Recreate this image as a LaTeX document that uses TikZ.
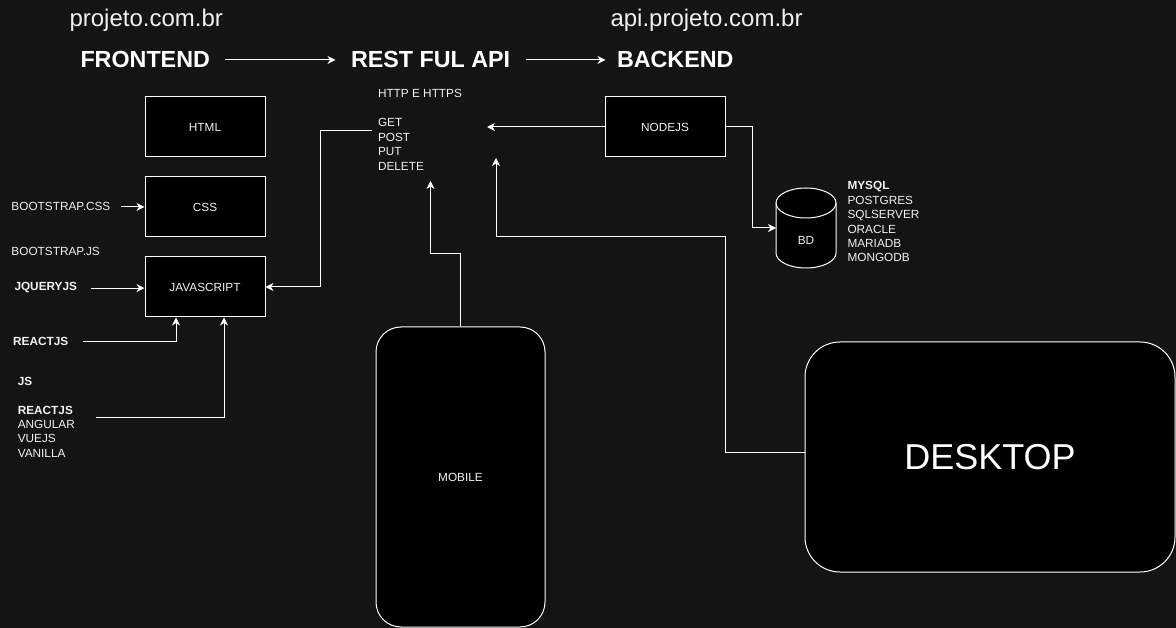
\documentclass[tikz,border=0pt]{standalone}
\usepackage{fontspec}
\setmainfont{Liberation Sans}
\usetikzlibrary{arrows.meta}
\definecolor{bg}{HTML}{141414}
\definecolor{txt}{HTML}{F0F0F0}
\newcommand{\smallf}{\fontsize{11.8}{14.4}\selectfont}
\begin{document}
\begin{tikzpicture}[x=1pt,y=-1pt, line width=1pt,
  box/.style={draw=white, fill=black, minimum width=120pt, minimum height=60pt, inner sep=0pt, text=txt, font=\smallf},
  lbl/.style={inner sep=0pt, anchor=base west, text=txt, font=\smallf},
  blbl/.style={lbl, font=\smallf\bfseries},
  head/.style={inner sep=0pt, anchor=base west, text=white, font=\fontsize{23.3}{28}\selectfont\bfseries},
  url/.style={inner sep=0pt, anchor=base west, text=txt, font=\fontsize{24}{28}\selectfont},
  conn/.style={draw=white, line width=1pt, -{Stealth[length=8pt,width=8pt,inset=2.5pt]}},
  rbox/.style={draw=white, fill=black, inner sep=0pt, text=txt}]
\fill[bg] (0,0) rectangle (1176,628);
\useasboundingbox (0,0) rectangle (1176,628);

% headings
\node[url] (u1) at (69,27) {projeto.com.br};
\node[url] (u2) at (610,27) {api.projeto.com.br};
\node[head] (front) at (80,68) {FRONTEND};
\node[head] (rest) at (350.5,68) {REST FUL API};
\node[head] (back) at (616.5,68) {BACKEND};
\draw[conn] ([xshift=15pt]front.east) -- ([xshift=-15pt]rest.west);
\draw[conn] ([xshift=15pt]rest.east) -- ([xshift=-11pt]back.west);

% frontend boxes
\node[box] (html) at (205,127) {HTML};
\node[box] (css) at (205,207) {CSS};
\node[box] (js) at (205,287) {JAVASCRIPT};
\node[box] (nodejs) at (665,127) {NODEJS};

% api text
\node[lbl] (http) at (377.5,98) {HTTP E HTTPS};
\node[lbl] (get) at (377.5,127) {GET};
\node[lbl] (post) at (377.5,141.4) {POST};
\node[lbl] (put) at (377.5,155.8) {PUT};
\node[lbl] (del) at (377.5,170.2) {DELETE};

% left labels
\node[lbl] (bcss) at (11,211) {BOOTSTRAP.CSS};
\node[lbl] (bjs) at (11,256) {BOOTSTRAP.JS};
\node[blbl] (jq) at (14,291) {JQUERYJS};
\node[blbl] (react) at (12.7,346) {REACTJS};
\node[blbl] (jsl) at (17.3,385) {JS};
\node[blbl] (fw1) at (17.3,414) {REACTJS};
\node[lbl] (fw2) at (17.3,428.4) {ANGULAR};
\node[lbl] (fw3) at (17.3,442.8) {VUEJS};
\node[lbl] (fw4) at (17.3,457.2) {VANILLA};

% database
\draw[draw=white, fill=black] (776,203) -- (776,253) arc[start angle=180, end angle=360, x radius=30pt, y radius=15pt]
  -- (836,203) arc[start angle=0, end angle=180, x radius=30pt, y radius=15pt] -- cycle;
\draw[white] (776,203) arc[start angle=180, end angle=360, x radius=30pt, y radius=15pt];
\node[lbl, anchor=center] (bd) at (806,240) {BD};
\coordinate (bdin) at (776,228);
\node[blbl] (db1) at (847,190) {MYSQL};
\node[lbl] (db2) at (847,204.4) {POSTGRES};
\node[lbl] (db3) at (847,218.8) {SQLSERVER};
\node[lbl] (db4) at (847,233.2) {ORACLE};
\node[lbl] (db5) at (847,247.6) {MARIADB};
\node[lbl] (db6) at (847,262) {MONGODB};

% devices
\node[rbox, rounded corners=25pt, minimum width=169pt, minimum height=300pt, font=\smallf] (mobile) at (460.5,477) {MOBILE};
\node[rbox, rounded corners=35pt, minimum width=370pt, minimum height=230pt, text=white, font=\fontsize{36}{42}\selectfont] (desktop) at (990,457) {DESKTOP};

% connector coordinates
\coordinate (getl) at (372,131);
\coordinate (apiR) at (487,127);
\coordinate (mobtip) at (430.5,181);
\coordinate (desktip) at (496,158);
\coordinate (fwout) at (95.5,417);

% connectors
\draw[conn] ([xshift=10pt]bcss.east) -- (bcss.east -| css.west);
\draw[conn] ([xshift=13pt]jq.east) -- (jq.east -| js.west);
\draw[conn] ([xshift=14pt]react.east) -| ([xshift=-29pt]js.south);
\draw[conn] (fwout) -| ([xshift=19pt]js.south);
\draw[conn] (getl) -- ++(-52,0) |- (js.east);
\draw[conn] (nodejs.west) -- (apiR);
\draw[conn] (nodejs.east) -- ++(27,0) |- (bdin);
\draw[conn] (mobile.north) -- ++(0,-73) -| (mobtip);
\draw[conn] ([yshift=5pt]desktop.west) -| (725,237) -| (desktip);
\end{tikzpicture}
\end{document}
